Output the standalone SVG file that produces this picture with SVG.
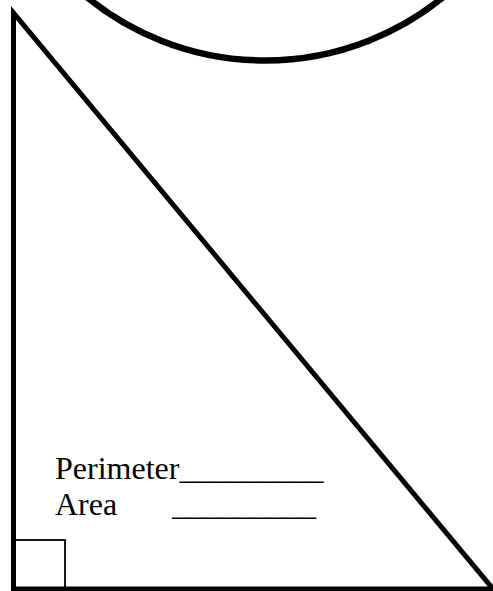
<svg xmlns="http://www.w3.org/2000/svg" width="493" height="591" viewBox="0 0 493 591">
<style>
.shape{fill:none;stroke:#000}
.lbl{font-family:"Liberation Serif","Times New Roman",serif;font-size:32px;fill:#000}
</style>
<rect width="493" height="591" fill="#fff"/>
<g id="circle">
<circle class="shape" cx="265" cy="-221.5" r="282" stroke-width="6.5"/>
</g>
<g id="triangle">
<polygon class="shape" points="13.5,13 13.5,589 493,589" stroke-width="5" stroke-linejoin="miter" stroke-miterlimit="10"/>
</g>
<g id="right-angle">
<rect class="shape" x="13.5" y="540" width="51.5" height="49" stroke-width="1.8"/>
</g>
<g id="labels">
<text class="lbl" x="55" y="479">Perimeter_________</text>
<text class="lbl" x="55" y="515">Area</text>
<text class="lbl" x="172" y="515">_________</text>
</g>
</svg>
